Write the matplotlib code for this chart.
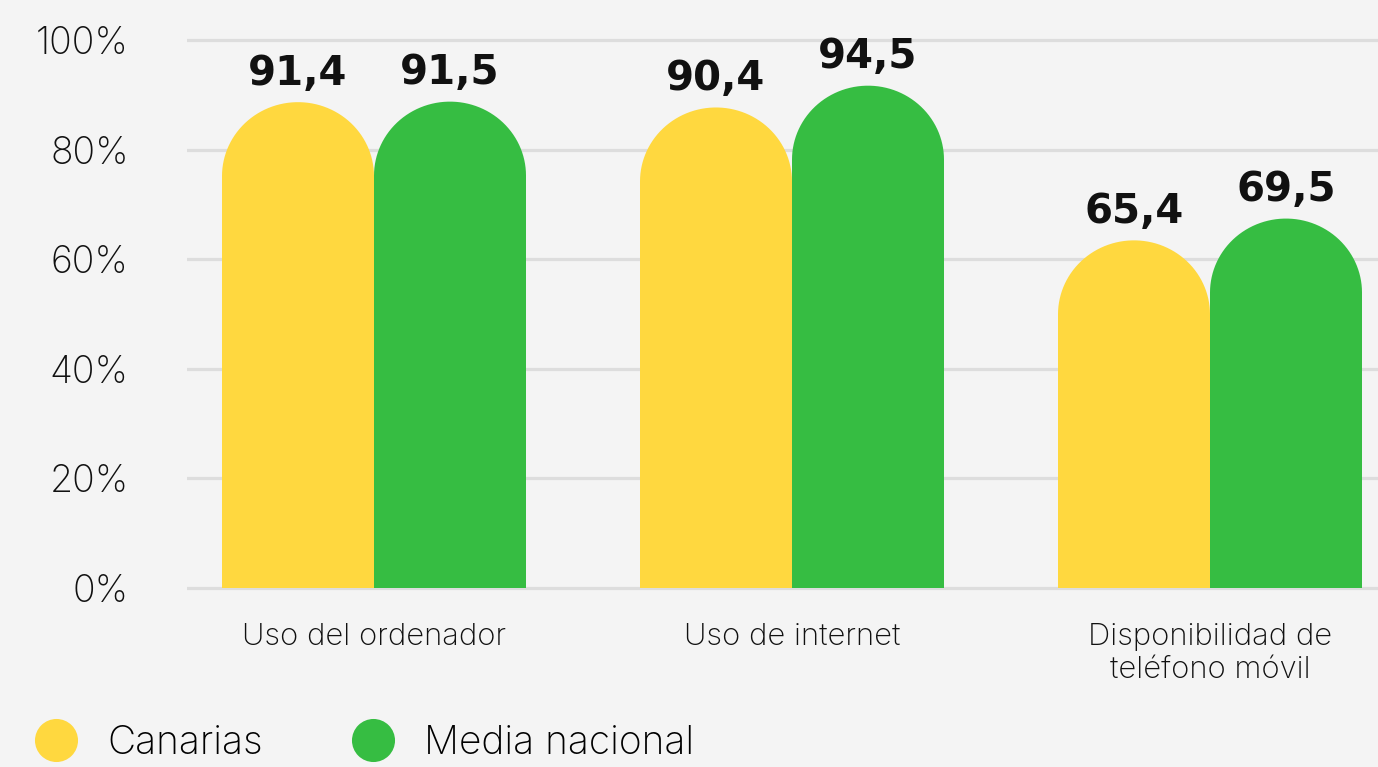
import numpy as np
import matplotlib.pyplot as plt
from matplotlib.patches import Polygon
from matplotlib.lines import Line2D

categories = ['Uso del ordenador', 'Uso de internet', 'Disponibilidad de\nteléfono móvil']
canarias = [91.4, 90.4, 65.4]
nacional = [91.5, 94.5, 69.5]
series_names = ['Canarias', 'Media nacional']
yticks = [0, 20, 40, 60, 80, 100]

YELLOW = '#FFD83F'
GREEN = '#36BD42'
BG = '#F4F4F4'
GRID = '#DDDDDD'

W, H = 1378, 767
fig = plt.figure(figsize=(W / 100, H / 100), dpi=100, facecolor=BG)

# axes placed in pixels: 0% at y=588, 100% at y=40
px_per_unit = (588 - 40) / 100
y0, y1 = -1.5, 101.5
bot = 588 + (0 - y0) * px_per_unit
top = 40 - (y1 - 100) * px_per_unit
ax = fig.add_axes([187 / W, 1 - bot / H, (W - 187) / W, (bot - top) / H])
ax.set_facecolor(BG)
ax.set_ylim(y0, y1)

xs = np.arange(len(categories))
px_per_x = (1210 - 374) / 2
ax.set_xlim((187 - 374) / px_per_x, (W - 374) / px_per_x)

bar_w = 152 / px_per_x
cap_h = 13.5
shrink = 0.97


def round_bar(x_left, height, color):
    h = height * shrink
    t = np.linspace(np.pi, 0, 60)
    cx = x_left + bar_w / 2
    arc_x = cx + np.cos(t) * bar_w / 2
    arc_y = (h - cap_h) + np.sin(t) * cap_h
    pts = [(x_left, 0)] + list(zip(arc_x, arc_y)) + [(x_left + bar_w, 0)]
    ax.add_patch(Polygon(pts, closed=True, facecolor=color, edgecolor='none', zorder=3))
    return h


for i in range(len(categories)):
    for vals, color, off in [(canarias, YELLOW, -bar_w), (nacional, GREEN, 0)]:
        h = round_bar(xs[i] + off, vals[i], color)
        ax.text(xs[i] + off + bar_w / 2, h + 3.2, f'{vals[i]:.1f}'.replace('.', ','),
                ha='center', va='baseline', fontsize=29, fontweight='bold',
                family='DejaVu Sans', color='#111111', zorder=4)

for y in yticks:
    ax.axhline(y, color=GRID, lw=2.3, zorder=1)

ax.set_yticks(yticks)
ax.set_yticklabels([f'{y}%' for y in yticks], family='Inter', fontsize=27,
                   fontweight='light', color='#111111')
ax.set_xticks(xs)
ax.set_xticklabels(categories, family='Inter', fontsize=22.3, fontweight='light',
                   color='#111111', linespacing=1.25, va='top')
ax.tick_params(axis='y', length=0, pad=42)
ax.tick_params(axis='x', length=0, pad=19)
for s in ax.spines.values():
    s.set_visible(False)

handles = [Line2D([], [], marker='o', ls='none', markersize=31, markerfacecolor=c,
                  markeredgecolor='none') for c in (YELLOW, GREEN)]
fig.legend(handles, series_names, loc='lower left', bbox_to_anchor=(-2 / W, -30 / H),
           ncol=2, frameon=False, prop={'family': 'Inter', 'size': 28, 'weight': 'light'},
           handletextpad=0.7, columnspacing=2.25, handlelength=1.2)

fig.savefig('out.png', dpi=100, facecolor=BG)
